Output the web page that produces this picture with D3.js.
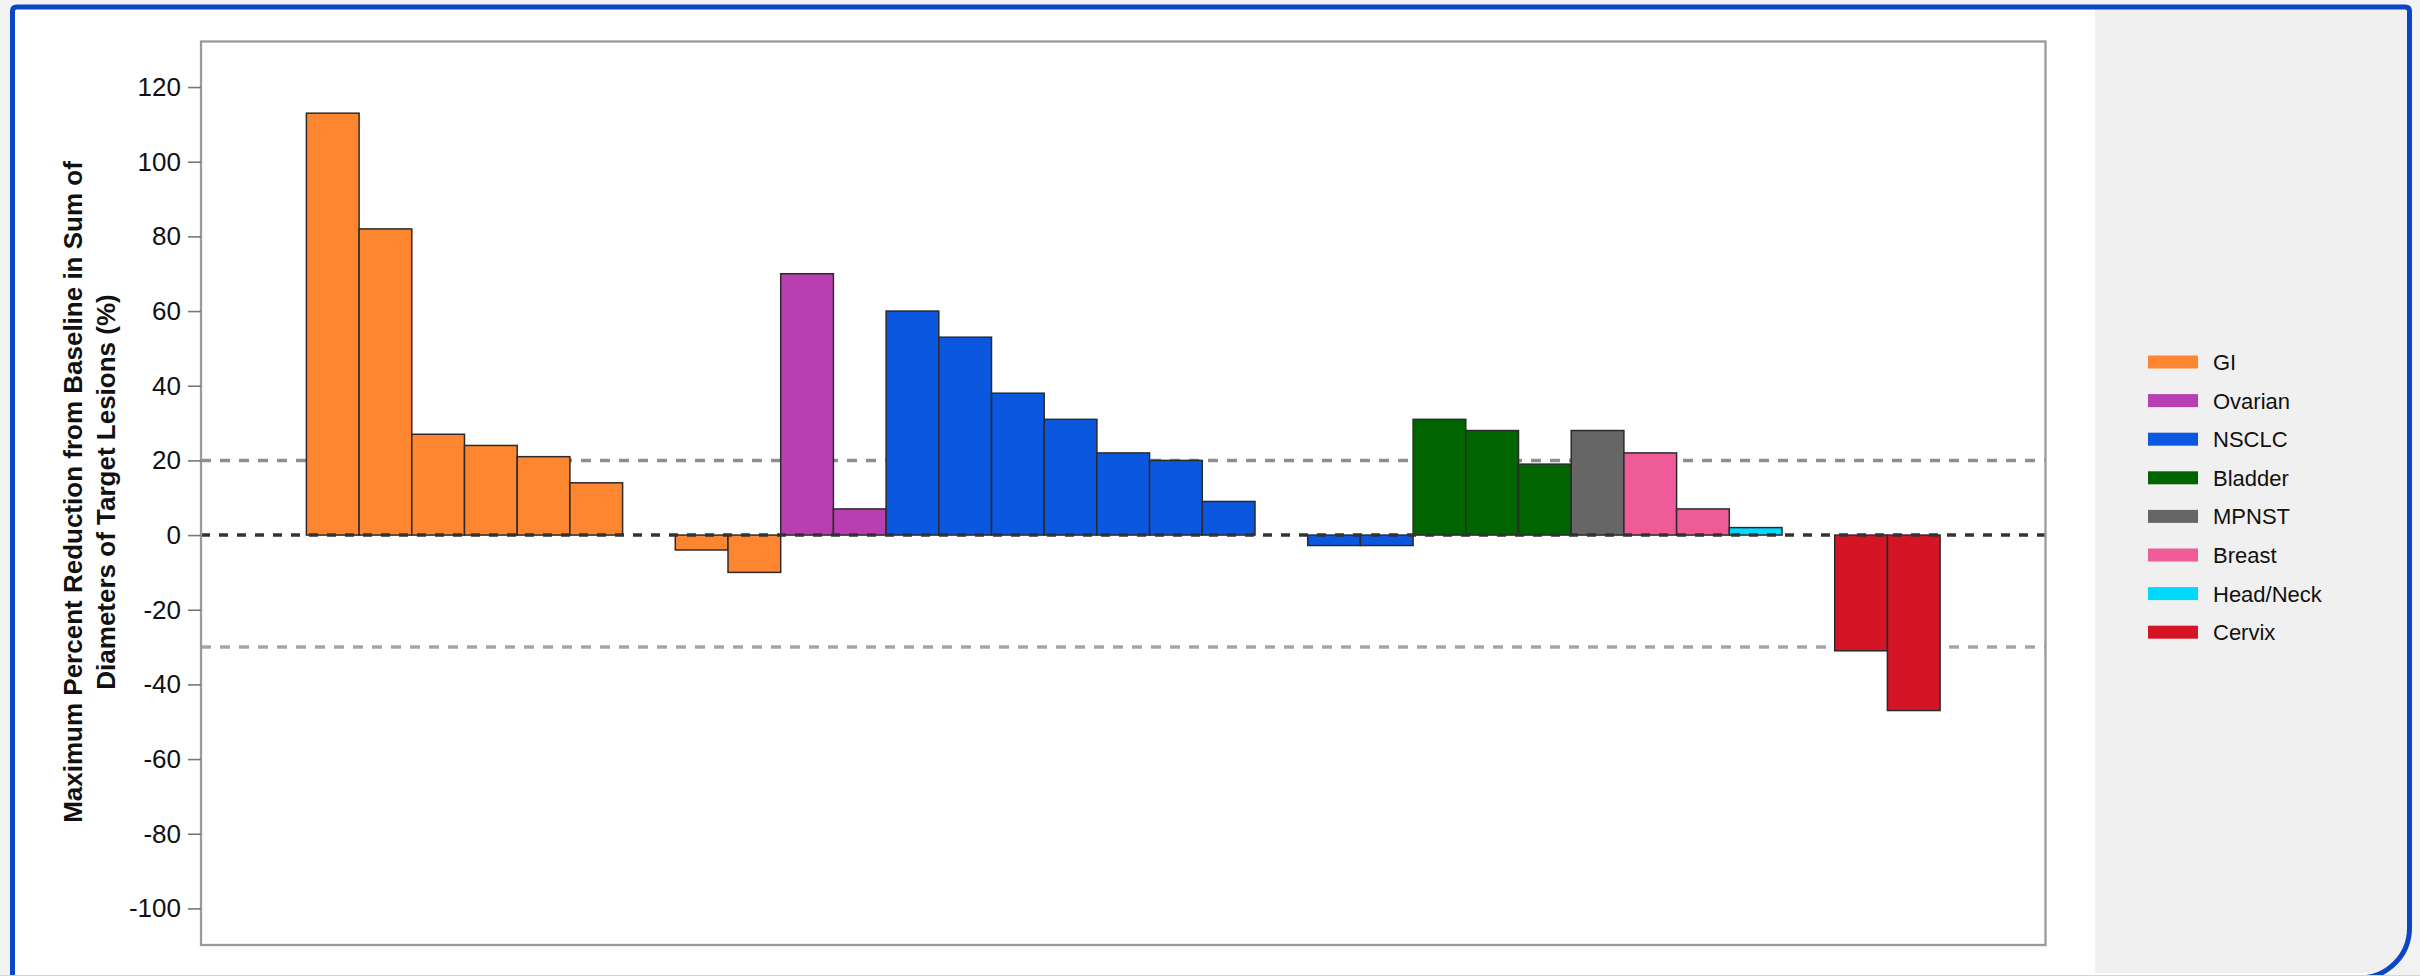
<!DOCTYPE html>
<html>
<head>
<meta charset="utf-8">
<script src="https://cdn.jsdelivr.net/npm/d3@7"></script>
<style>
  html, body { margin: 0; padding: 0; background: #f3f3f3; }
  svg { display: block; }
  text { font-family: "Liberation Sans", Arial, Helvetica, sans-serif; }
</style>
</head>
<body>
<svg id="chart" width="2420" height="976"></svg>
<script>
// ---------------- DATA ----------------
const patientIds = ["1","2","3","4","5","6","7","8","9","10","11","12","13","14","15","16",
                    "17","18","19","20","21","22","23","24","25","26","27","28","29","30","31"];
const tumorTypes = ["GI","GI","GI","GI","GI","GI",null,"GI","GI","Ovarian","Ovarian",
                    "NSCLC","NSCLC","NSCLC","NSCLC","NSCLC","NSCLC","NSCLC",null,"NSCLC","NSCLC",
                    "Bladder","Bladder","Bladder","MPNST","Breast","Breast","Head/Neck",null,
                    "Cervix","Cervix"];
const changes = [113, 82, 27, 24, 21, 14, null, -4, -10, 70, 7,
                 60, 53, 38, 31, 22, 20, 9, null, -2.8, -2.8,
                 31, 28, 19, 28, 22, 7, 2, null,
                 -31, -47];
const legendTypes = ["GI","Ovarian","NSCLC","Bladder","MPNST","Breast","Head/Neck","Cervix"];
const legendColors = ["#fe8630","#b83fb1","#0b57e0","#006400","#666666","#ef5a99","#00d9ff","#d51426"];
const yTicks = [-100,-80,-60,-40,-20,0,20,40,60,80,100,120];
const yDomain = [-109.8, 132.2];
const thresholdLines = [20, -30];
const yTitleLines = ["Maximum Percent Reduction from Baseline in Sum of",
                     "Diameters of Target Lesions (%)"];

// ---------------- LAYOUT ----------------
const svg = d3.select("#chart");
const plot = {left: 201, right: 2045.5, top: 41.5, bottom: 945};

const color = d3.scaleOrdinal().domain(legendTypes).range(legendColors);
const x = d3.scaleBand().domain(patientIds)
  .range([plot.left, plot.right]).paddingInner(0).paddingOuter(2);
const y = d3.scaleLinear().domain(yDomain).range([plot.bottom, plot.top]);

// outer framed box
const boxPath = "M12.5,980 L12.5,11 Q12.5,7 16.5,7 L2405.5,7 Q2409.5,7 2409.5,11 L2409.5,928 A50,50 0 0 1 2359.5,978 L12.5,978 Z";
const defs = svg.append("defs");
defs.append("clipPath").attr("id", "boxClip").append("path").attr("d", boxPath);

svg.append("path").attr("d", boxPath).attr("fill", "#ffffff");
svg.append("rect").attr("clip-path", "url(#boxClip)")
  .attr("x", 2095).attr("y", 9).attr("width", 320).attr("height", 964)
  .attr("fill", "#f0f0f0");
svg.append("path").attr("d", boxPath).attr("fill", "none")
  .attr("stroke", "#0b46c6").attr("stroke-width", 5);
svg.append("line").attr("x1", 0).attr("x2", 2420).attr("y1", 975.5).attr("y2", 975.5)
  .attr("stroke", "#c9d5f1").attr("stroke-width", 1);

// plot frame background
svg.append("rect")
  .attr("x", plot.left).attr("y", plot.top)
  .attr("width", plot.right - plot.left).attr("height", plot.bottom - plot.top)
  .attr("fill", "#ffffff");

// threshold lines (behind bars)
svg.append("g").selectAll("line").data(thresholdLines).join("line")
  .attr("x1", plot.left).attr("x2", plot.right)
  .attr("y1", d => y(d)).attr("y2", d => y(d))
  .attr("stroke", (d, i) => i === 0 ? "#8e8e8e" : "#a6a6a6")
  .attr("stroke-width", 3.5)
  .attr("stroke-dasharray", "10,9");

// bars
const rows = patientIds.map((id, i) => ({id, type: tumorTypes[i], v: changes[i]}))
  .filter(d => d.v !== null);
svg.append("g").selectAll("rect").data(rows).join("rect")
  .attr("x", d => x(d.id))
  .attr("width", x.bandwidth())
  .attr("y", d => y(Math.max(0, d.v)))
  .attr("height", d => Math.abs(y(d.v) - y(0)))
  .attr("fill", d => color(d.type))
  .attr("stroke", "#2b2b2b")
  .attr("stroke-width", 1.5);

// zero line (on top)
svg.append("line")
  .attr("x1", plot.left).attr("x2", plot.right)
  .attr("y1", y(0)).attr("y2", y(0))
  .attr("stroke", "#333333").attr("stroke-width", 3.5)
  .attr("stroke-dasharray", "9,9");

// plot frame
svg.append("rect")
  .attr("x", plot.left).attr("y", plot.top)
  .attr("width", plot.right - plot.left).attr("height", plot.bottom - plot.top)
  .attr("fill", "none").attr("stroke", "#9a9a9a").attr("stroke-width", 2.3);

// y axis
const yAxis = svg.append("g").attr("transform", `translate(${plot.left},0)`)
  .call(d3.axisLeft(y).tickValues(yTicks).tickSize(13).tickPadding(7).tickFormat(d => String(d)));
yAxis.select(".domain").remove();
yAxis.selectAll(".tick line").attr("stroke", "#777").attr("stroke-width", 1.6);
yAxis.selectAll(".tick text")
  .attr("fill", "#111").style("font-size", "26px")
  .style("font-family", "'Liberation Sans', Arial, sans-serif");

// y title
const titleG = svg.append("g");
titleG.selectAll("text").data(yTitleLines).join("text")
  .attr("transform", (d, i) => `translate(${82 + i * 33},492) rotate(-90)`)
  .attr("text-anchor", "middle")
  .attr("fill", "#111")
  .style("font-size", "26px").style("font-weight", "bold")
  .text(d => d);

// legend
const legend = svg.append("g");
const lg = legend.selectAll("g").data(legendTypes).join("g")
  .attr("transform", (d, i) => `translate(2148,${362 + i * 38.6})`);
lg.append("rect").attr("x", 0).attr("y", -6.5).attr("width", 50).attr("height", 13)
  .attr("fill", d => color(d));
lg.append("text").attr("x", 65).attr("dy", "0.36em")
  .attr("fill", "#111").style("font-size", "22px")
  .text(d => d);
</script>
</body>
</html>
